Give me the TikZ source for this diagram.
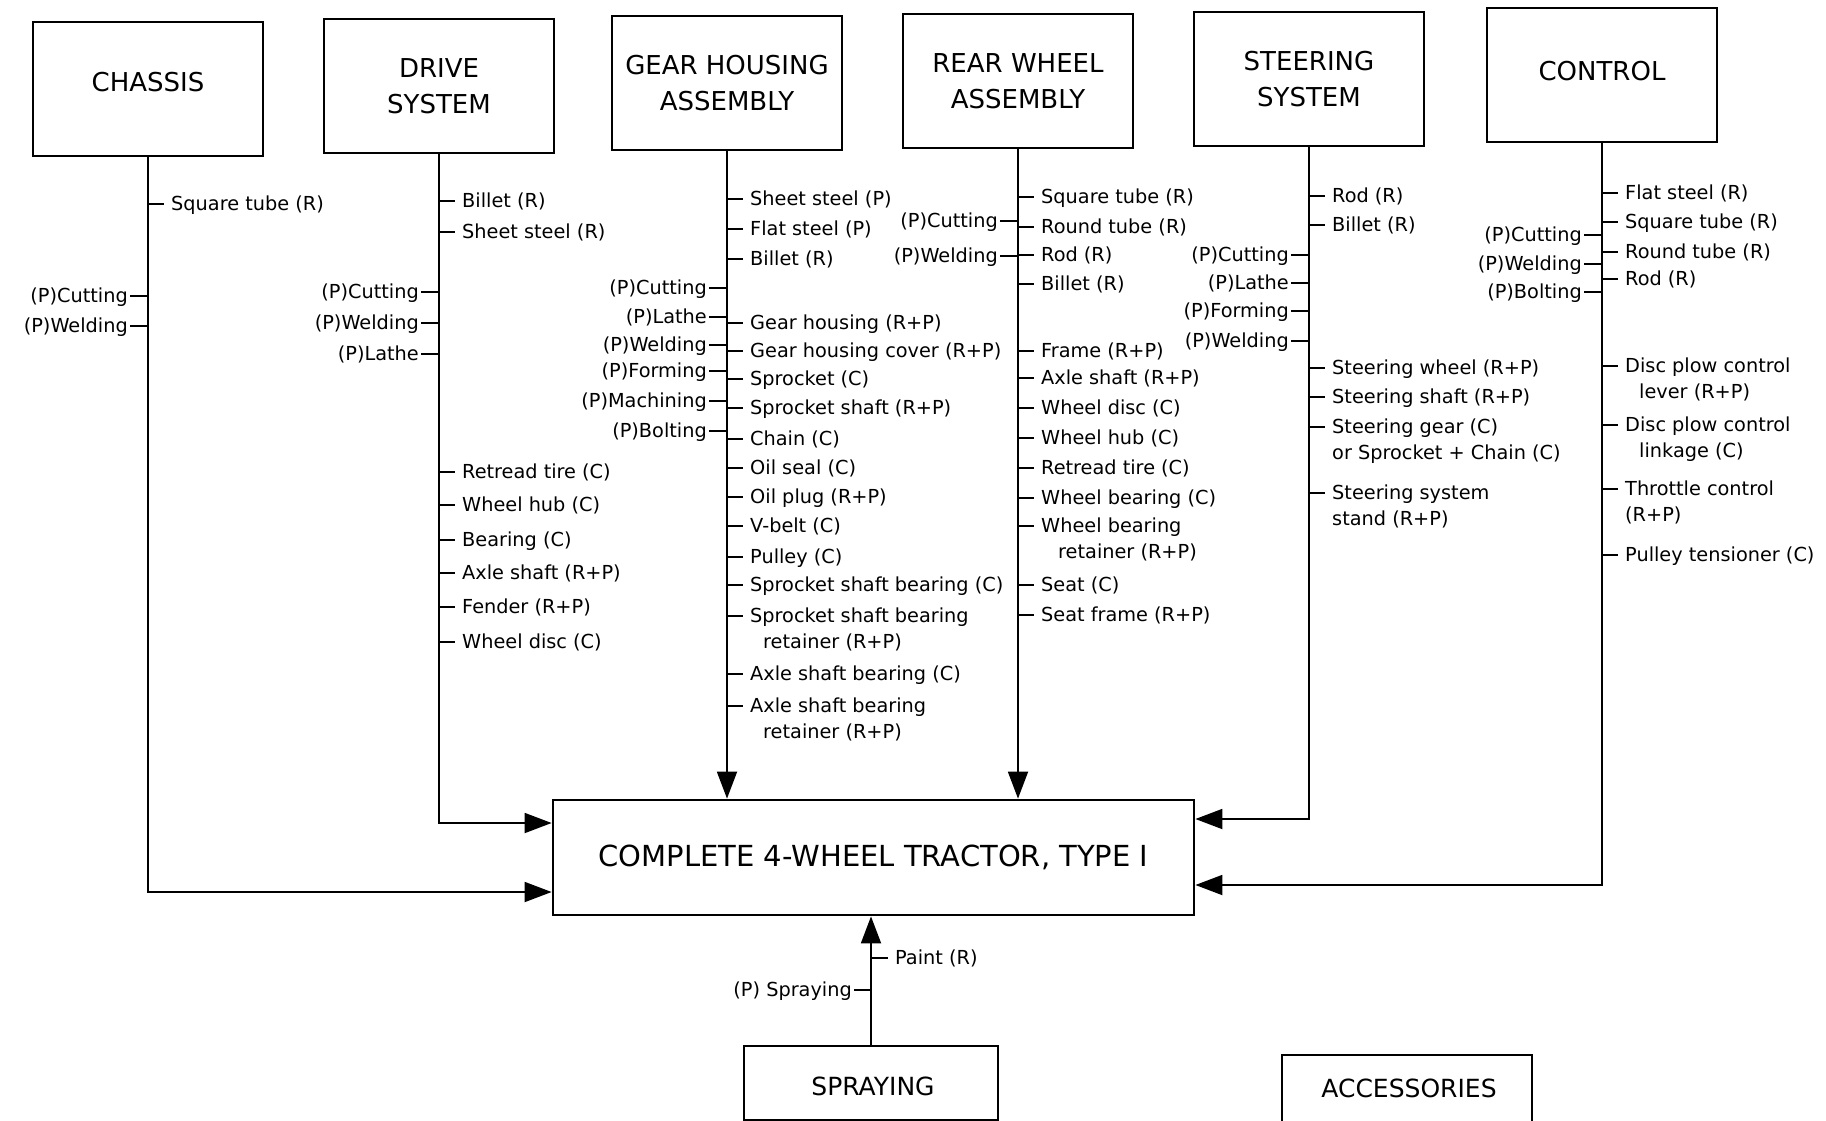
\documentclass[tikz,border=0pt]{standalone}
\usepackage{fontspec}
\setmainfont{DejaVu Sans}
\usetikzlibrary{arrows.meta,calc}
\tikzset{
 box/.style={draw, line width=2.4pt, minimum width=230pt, minimum height=134pt, align=center, font=\fontsize{26}{36}\selectfont, inner sep=0pt},
 arr/.style={line width=1.8pt, -{Triangle[length=27pt,width=20pt]}},
 tick/.style={line width=2pt},
 lbl/.style={font=\fontsize{19.3}{26}\selectfont, inner sep=2pt, text height=14pt, text depth=1pt},
}
\newcommand\rlab[4]{\node[lbl,anchor=west] (#1) at (#2+21,#3) {#4}; \draw[tick] (#2,#3) -- ($(#1.west)+(-5,0)$);}
\newcommand\llab[4]{\node[lbl,anchor=east] (#1) at (#2-18,#3) {#4}; \draw[tick] (#1.east) -- (#2,#3);}
\newcommand\rlabb[6]{\rlab{#1}{#2}{#3}{#4}\node[lbl,anchor=west] (#1b) at ($(#1.west)+(#6,26)$) {#5};}
\begin{document}
\begin{tikzpicture}[x=1pt,y=-1pt]
\useasboundingbox (0,0) rectangle (1826,1120);
% top boxes
\node[box] (chassis) at (148,89) {};
\node[font=\fontsize{26}{36}\selectfont] (chassist) at (148,82) {CHASSIS};
\node[box] (drive) at (439,86) {DRIVE\\SYSTEM};
\node[box] (gear) at (727,83) {GEAR HOUSING\\ASSEMBLY};
\node[box] (rear) at (1018,81) {REAR WHEEL\\ASSEMBLY};
\node[box] (steer) at (1309,79) {STEERING\\SYSTEM};
\node[box] (control) at (1602,75) {};
\node[font=\fontsize{26}{36}\selectfont] (controlt) at (1602,71) {CONTROL};
% main box
\node[box, line width=2.8pt, minimum width=641pt, minimum height=115pt, font=\fontsize{29}{34}\selectfont] (tractor) at (873.5,857.5) {COMPLETE 4-WHEEL TRACTOR, TYPE I};
\node[box, minimum width=254pt, minimum height=74pt] (spray) at (871,1083) {};
\node[font=\fontsize{25}{30}\selectfont] (sprayt) at (873,1086) {SPRAYING};
\node[box, line width=1.8pt, minimum width=250pt, minimum height=80pt, font=\fontsize{25}{30}\selectfont] (acc) at (1407,1095) {};
\node[font=\fontsize{25}{30}\selectfont] (acct) at (1409,1088) {ACCESSORIES};
% trunks
\draw[arr] (chassis.south) |- ($(tractor.west)+(0,34.5)$);
\draw[arr] (drive.south) |- ($(tractor.west)+(0,-34.5)$);
\draw[arr] (gear.south) -- (gear.south |- tractor.north);
\draw[arr] (rear.south) -- (rear.south |- tractor.north);
\draw[arr] (steer.south) |- ($(tractor.east)+(0,-38.5)$);
\draw[arr] (control.south) |- ($(tractor.east)+(0,27.5)$);
\draw[arr] (spray.north) -- (spray.north |- tractor.south);
% chassis labels
\rlab{c1}{148}{204}{Square tube (R)}
\llab{c2}{148}{296}{(P)Cutting}
\llab{c3}{148}{326}{(P)Welding}
% drive labels
\rlab{d1}{439}{201}{Billet (R)}
\rlab{d2}{439}{232}{Sheet steel (R)}
\llab{d3}{439}{292}{(P)Cutting}
\llab{d4}{439}{323}{(P)Welding}
\llab{d5}{439}{354}{(P)Lathe}
\rlab{d6}{439}{472}{Retread tire (C)}
\rlab{d7}{439}{505}{Wheel hub (C)}
\rlab{d8}{439}{540}{Bearing (C)}
\rlab{d9}{439}{573}{Axle shaft (R+P)}
\rlab{d10}{439}{607}{Fender (R+P)}
\rlab{d11}{439}{642}{Wheel disc (C)}
% gear housing labels
\rlab{g1}{727}{199}{Sheet steel (P)}
\rlab{g2}{727}{229}{Flat steel (P)}
\rlab{g3}{727}{259}{Billet (R)}
\llab{g4}{727}{288}{(P)Cutting}
\llab{g5}{727}{317}{(P)Lathe}
\llab{g6}{727}{345}{(P)Welding}
\llab{g7}{727}{371}{(P)Forming}
\llab{g8}{727}{401}{(P)Machining}
\llab{g9}{727}{431}{(P)Bolting}
\rlab{g10}{727}{323}{Gear housing (R+P)}
\rlab{g11}{727}{351}{Gear housing cover (R+P)}
\rlab{g12}{727}{379}{Sprocket (C)}
\rlab{g13}{727}{408}{Sprocket shaft (R+P)}
\rlab{g14}{727}{439}{Chain (C)}
\rlab{g15}{727}{468}{Oil seal (C)}
\rlab{g16}{727}{497}{Oil plug (R+P)}
\rlab{g17}{727}{526}{V-belt (C)}
\rlab{g18}{727}{557}{Pulley (C)}
\rlab{g19}{727}{585}{Sprocket shaft bearing (C)}
\rlabb{g20}{727}{616}{Sprocket shaft bearing}{retainer (R+P)}{13}
\rlab{g21}{727}{674}{Axle shaft bearing (C)}
\rlabb{g22}{727}{706}{Axle shaft bearing}{retainer (R+P)}{13}
% rear wheel labels
\rlab{r1}{1018}{197}{Square tube (R)}
\rlab{r2}{1018}{227}{Round tube (R)}
\rlab{r3}{1018}{255}{Rod (R)}
\rlab{r4}{1018}{284}{Billet (R)}
\llab{r5}{1018}{221}{(P)Cutting}
\llab{r6}{1018}{256}{(P)Welding}
\rlab{r7}{1018}{351}{Frame (R+P)}
\rlab{r8}{1018}{378}{Axle shaft (R+P)}
\rlab{r9}{1018}{408}{Wheel disc (C)}
\rlab{r10}{1018}{438}{Wheel hub (C)}
\rlab{r11}{1018}{468}{Retread tire (C)}
\rlab{r12}{1018}{498}{Wheel bearing (C)}
\rlabb{r13}{1018}{526}{Wheel bearing}{retainer (R+P)}{17}
\rlab{r14}{1018}{585}{Seat (C)}
\rlab{r15}{1018}{615}{Seat frame (R+P)}
% steering labels
\rlab{s1}{1309}{196}{Rod (R)}
\rlab{s2}{1309}{225}{Billet (R)}
\llab{s3}{1309}{255}{(P)Cutting}
\llab{s4}{1309}{283}{(P)Lathe}
\llab{s5}{1309}{311}{(P)Forming}
\llab{s6}{1309}{341}{(P)Welding}
\rlab{s7}{1309}{368}{Steering wheel (R+P)}
\rlab{s8}{1309}{397}{Steering shaft (R+P)}
\rlabb{s9}{1309}{427}{Steering gear (C)}{or Sprocket + Chain (C)}{0}
\rlabb{s10}{1309}{493}{Steering system}{stand (R+P)}{0}
% control labels
\rlab{k1}{1602}{193}{Flat steel (R)}
\rlab{k2}{1602}{222}{Square tube (R)}
\rlab{k3}{1602}{252}{Round tube (R)}
\rlab{k4}{1602}{279}{Rod (R)}
\llab{k5}{1602}{235}{(P)Cutting}
\llab{k6}{1602}{264}{(P)Welding}
\llab{k7}{1602}{292}{(P)Bolting}
\rlabb{k8}{1602}{366}{Disc plow control}{lever (R+P)}{14}
\rlabb{k9}{1602}{425}{Disc plow control}{linkage (C)}{14}
\rlabb{k10}{1602}{489}{Throttle control}{(R+P)}{0}
\rlab{k11}{1602}{555}{Pulley tensioner (C)}
% spraying labels
\rlab{p1}{872}{958}{Paint (R)}
\llab{p2}{872}{990}{(P) Spraying}
\end{tikzpicture}
\end{document}
